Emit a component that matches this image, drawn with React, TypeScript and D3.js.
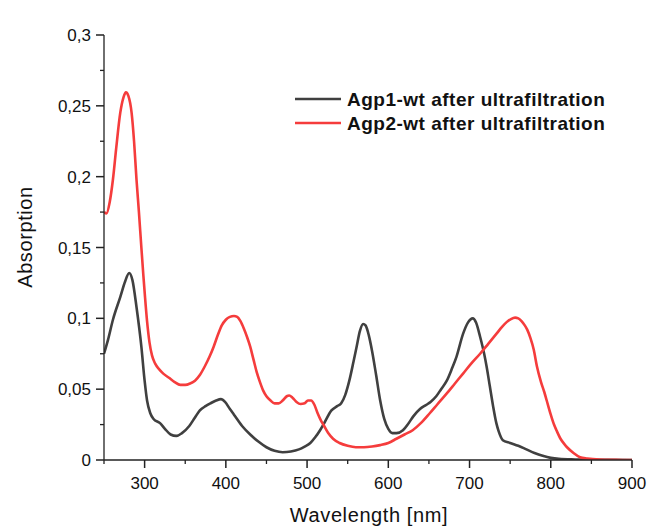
import React from "react";
import * as d3 from "d3";

const agp1Wavelength = [250,255,261,270,276,281,285,290,296,300,303,307,311,319,325,332,339,346,355,362,368,375,381,388,394,399,405,410,420,430,440,450,460,470,480,490,497,504,510,516,522,530,537,542,547,552,557,561,565,569,572,576,580,585,590,595,600,605,610,618,625,631,639,647,652,659,665,672,678,684,692,698,704,708,713,718,721,725,729,733,736,741,750,760,770,780,790,800,810,830,850,870,900];
const agp1Absorption = [0.075,0.085,0.099,0.115,0.126,0.132,0.127,0.108,0.080,0.056,0.042,0.033,0.029,0.026,0.022,0.018,0.017,0.019,0.024,0.030,0.035,0.038,0.040,0.042,0.043,0.041,0.036,0.032,0.024,0.018,0.013,0.009,0.0065,0.0055,0.006,0.0075,0.0095,0.012,0.016,0.021,0.027,0.035,0.038,0.040,0.046,0.056,0.069,0.080,0.091,0.096,0.095,0.088,0.077,0.060,0.042,0.029,0.022,0.019,0.019,0.021,0.026,0.031,0.036,0.039,0.041,0.045,0.050,0.056,0.064,0.073,0.089,0.097,0.100,0.097,0.087,0.075,0.066,0.052,0.038,0.026,0.020,0.014,0.012,0.010,0.0075,0.005,0.003,0.0015,0.0008,0.0004,0.0002,0.0001,0];

const agp2Wavelength = [250,253,257,261,265,270,274,277,280,284,287,290,293,296,298.5,300.5,303,306,309,313,318,323,330,337,344,350,356,362,368,374,380,385,390,395,400,405,410,414,418,422,426,430,434,438,442,446,450,455,460,465,470,475,478,482,487,492,497,501,505,509,513,517,521,526,532,540,550,560,570,580,590,600,610,620,630,640,651,660,672,682,692,702,713,723,733,740,746,751,756,760,764,768,771,775,779,783,788,792,795,800,804,807,812,817,820,828,836,845,860,880,900];
const agp2Absorption = [0.175,0.174,0.182,0.198,0.220,0.245,0.256,0.2595,0.257,0.245,0.225,0.198,0.175,0.150,0.130,0.115,0.098,0.083,0.074,0.068,0.064,0.061,0.058,0.055,0.053,0.053,0.054,0.056,0.060,0.066,0.073,0.080,0.088,0.095,0.099,0.101,0.1016,0.101,0.098,0.093,0.087,0.080,0.071,0.062,0.055,0.049,0.045,0.042,0.040,0.040,0.042,0.045,0.0455,0.044,0.041,0.0395,0.040,0.042,0.042,0.039,0.033,0.028,0.024,0.019,0.015,0.012,0.010,0.009,0.009,0.0095,0.0105,0.012,0.015,0.018,0.021,0.026,0.033,0.039,0.047,0.054,0.061,0.068,0.075,0.082,0.089,0.094,0.0975,0.0995,0.1005,0.100,0.098,0.095,0.092,0.086,0.078,0.066,0.055,0.048,0.042,0.032,0.025,0.021,0.015,0.011,0.009,0.005,0.002,0.001,0.0003,0.0001,0];

const seriesNames = ["Agp1-wt after ultrafiltration", "Agp2-wt after ultrafiltration"];
const seriesColors = ["#404040", "#f53c3c"];
const xMajorTicks = [300, 400, 500, 600, 700, 800, 900];
const xMinorTicks = [250, 350, 450, 550, 650, 750, 850];
const yMajorTicks = [0, 0.05, 0.1, 0.15, 0.2, 0.25, 0.3];
const yMinorTicks = [0.025, 0.075, 0.125, 0.175, 0.225, 0.275];

export default function App() {
  const W = 648, H = 527;
  const left = 104, right = 632, top = 35, bottom = 460;
  const x = d3.scaleLinear().domain([250, 900]).range([left, right]);
  const y = d3.scaleLinear().domain([0, 0.3]).range([bottom, top]);
  const line = d3.line<[number, number]>()
    .x(d => x(d[0]))
    .y(d => y(d[1]))
    .curve(d3.curveMonotoneX);
  const s1 = agp1Wavelength.map((w, i) => [w, agp1Absorption[i]] as [number, number]);
  const s2 = agp2Wavelength.map((w, i) => [w, agp2Absorption[i]] as [number, number]);
  const fmt = (v: number) => String(+v.toFixed(3)).replace(".", ",");
  const font = "Liberation Sans, Arial, sans-serif";
  const axisColor = "#222";
  return (
    <svg width={W} height={H} style={{ position: "absolute", left: 0, top: 0, background: "#fff" }} fontFamily={font}>
      <rect width={W} height={H} fill="#fff" />
      <defs>
        <clipPath id="plot">
          <rect x={left} y={top - 5} width={right - left + 2} height={bottom - top + 5} />
        </clipPath>
      </defs>
      <g clipPath="url(#plot)">
        <path d={line(s1) || ""} fill="none" stroke={seriesColors[0]} strokeWidth={2.6} strokeLinejoin="round" />
        <path d={line(s2) || ""} fill="none" stroke={seriesColors[1]} strokeWidth={2.6} strokeLinejoin="round" />
      </g>
      <line x1={left} x2={left} y1={top} y2={bottom} stroke={axisColor} strokeWidth={1.3} />
      <line x1={left} x2={right} y1={bottom} y2={bottom} stroke={axisColor} strokeWidth={1.3} />
      {yMajorTicks.map(t => (
        <g key={"ym" + t}>
          <line x1={left - 8} x2={left} y1={y(t)} y2={y(t)} stroke={axisColor} strokeWidth={1.5} />
          <text x={left - 13} y={y(t)} dy="0.36em" textAnchor="end" fontSize={17} fill="#111">{fmt(t)}</text>
        </g>
      ))}
      {yMinorTicks.map(t => (
        <line key={"yn" + t} x1={left - 4} x2={left} y1={y(t)} y2={y(t)} stroke={axisColor} strokeWidth={1.3} />
      ))}
      {xMajorTicks.map(t => (
        <g key={"xm" + t}>
          <line x1={x(t)} x2={x(t)} y1={bottom} y2={bottom + 8} stroke={axisColor} strokeWidth={1.5} />
          <text x={x(t)} y={489} textAnchor="middle" fontSize={17} fill="#111">{t}</text>
        </g>
      ))}
      {xMinorTicks.map(t => (
        <line key={"xn" + t} x1={x(t)} x2={x(t)} y1={bottom} y2={bottom + 4} stroke={axisColor} strokeWidth={1.3} />
      ))}
      <text x={369} y={522} textAnchor="middle" fontSize={20} letterSpacing={0.6} fill="#111">Wavelength [nm]</text>
      <text transform={`translate(32, 237) rotate(-90)`} textAnchor="middle" fontSize={20} letterSpacing={0.6} fill="#111">Absorption</text>
      {seriesNames.map((n, i) => (
        <g key={n} transform={`translate(0, ${99 + i * 24})`}>
          <line x1={295} x2={341} y1={0} y2={0} stroke={seriesColors[i]} strokeWidth={2.6} />
          <text x={347} y={0} dy="0.36em" fontSize={19} fontWeight="bold" letterSpacing={0.5} fill="#111">{n}</text>
        </g>
      ))}
    </svg>
  );
}
